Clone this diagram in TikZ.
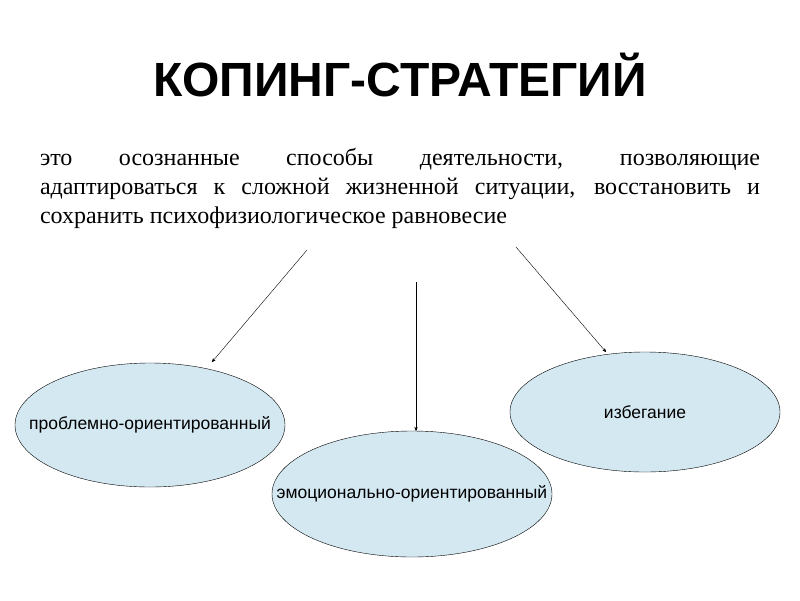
\documentclass[tikz,border=0pt]{standalone}
\usepackage{fontspec}
\setmainfont{Liberation Serif}
\newfontfamily\labelfont{Liberation Sans}
\usetikzlibrary{arrows,shapes.geometric}
\definecolor{ovalblue}{RGB}{212,232,242}
\begin{document}
\begin{tikzpicture}[x=1pt,y=-1pt,>=stealth',thin,
                    kind node/.style={ellipse,draw,fill=ovalblue,minimum width=270pt,
                      minimum height=124pt,inner sep=0pt,
                      label={[font=\labelfont\fontsize{17.5}{20}\selectfont]center:#1}}]
  \useasboundingbox (0,0) rectangle (800,600);

  \node (title) at (400,75) {\labelfont\bfseries\fontsize{48}{52}\selectfont КОПИНГ-СТРАТЕГИЙ};
  \node[text width=720pt,align=justify,inner sep=0pt,font=\fontsize{24}{29}\selectfont] (def) at (400,188)
    {это осознанные способы деятельности, позволяющие\linebreak
     адаптироваться к сложной жизненной ситуации, восстановить и\linebreak
     сохранить психофизиологическое равновесие};

  \node[kind node=проблемно-ориентированный] (problem) at (150,425) {};
  \node[kind node=эмоционально-ориентированный,minimum width=280pt,minimum height=126pt] (emotion) at (412,494) {};
  \node[kind node=избегание,minimum height=120pt] (avoid) at (645,412) {};

  \coordinate (fromleft) at (307,250);
  \coordinate (frommid) at (416,282);
  \coordinate (fromright) at (516,247);

  \draw[->] (fromleft) -- (212,362);
  \draw[->] (frommid) -- (emotion.north -| frommid);
  \draw[->] (fromright) -- (606,352);
\end{tikzpicture}
\end{document}
